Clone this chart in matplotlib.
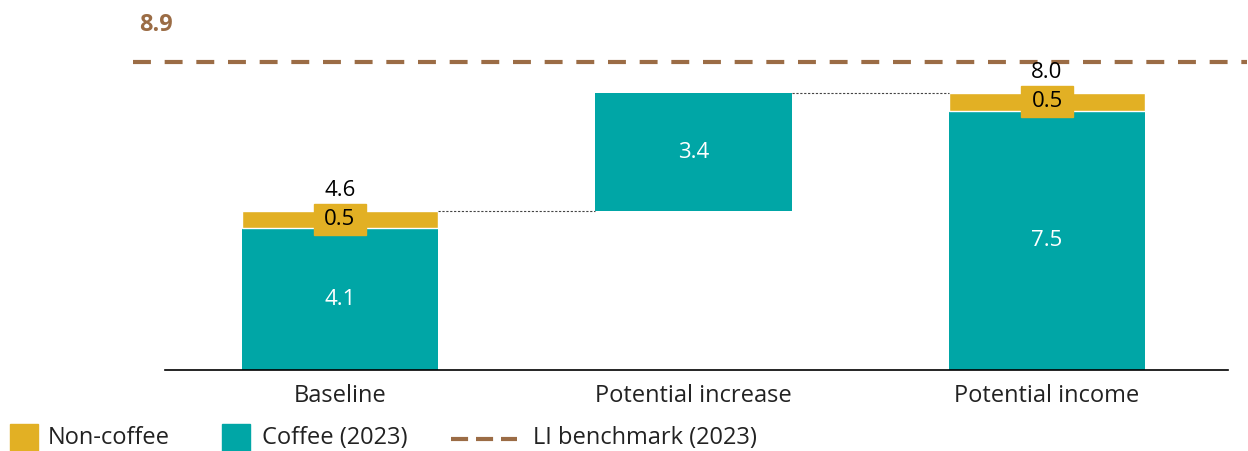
import matplotlib.pyplot as plt
from matplotlib.patches import Rectangle
from matplotlib.lines import Line2D

plt.rcParams['font.family'] = ['Open Sans', 'DejaVu Sans']

# income components (per category)
categories = ["Baseline", "Potential increase", "Potential income"]
coffee = [4.1, 3.4, 7.5]
non_coffee = [0.5, 0.0, 0.5]
totals = [4.6, 8.0, 8.0]
benchmark = 8.9

TEAL = "#00a6a6"
GOLD = "#e2b024"
BROWN = "#9b6c45"
TEXT = "#222222"

fig = plt.figure(figsize=(12.48, 4.51), dpi=100)
ax = fig.add_axes([165 / 1248, 1 - 370 / 451, (1228 - 165) / 1248, 370 / 451])

x = [0, 1, 2]
w = 0.555

# baseline bar
ax.bar(x[0], coffee[0], width=w, color=TEAL)
ax.bar(x[0], non_coffee[0], bottom=coffee[0], width=w, color=GOLD,
       edgecolor="white", linewidth=1)

# floating increase
ax.bar(x[1], coffee[1], bottom=totals[0], width=w, color=TEAL)

# potential income bar
ax.bar(x[2], coffee[2], width=w, color=TEAL)
ax.bar(x[2], non_coffee[2], bottom=coffee[2], width=w, color=GOLD,
       edgecolor="white", linewidth=1)

# connector lines between bars
ax.plot([x[0] + w / 2, x[1] - w / 2], [totals[0], totals[0]],
        color="#444444", lw=0.8, ls=(0, (2, 1.5)))
ax.plot([x[1] + w / 2, x[2] - w / 2], [totals[1], totals[1]],
        color="#444444", lw=0.8, ls=(0, (2, 1.5)))

# benchmark line runs past the axis ends
ax.plot([-0.586, 2.565], [benchmark, benchmark], color=BROWN, lw=3,
        ls=(0, (4.3, 3.3)), clip_on=False)
fig.text(139 / 1248, 1 - 25 / 451, f"{benchmark}", color=BROWN,
         fontsize=17, fontweight="bold", va="center", ha="left")

# labels
box_w, box_h = 0.145, 0.9
for i in (0, 2):
    ax.text(x[i], coffee[i] / 2, f"{coffee[i]}", color="white",
            fontsize=16, ha="center", va="center")
    mid = coffee[i] + non_coffee[i] / 2
    ax.add_patch(Rectangle((x[i] - box_w / 2, mid - box_h / 2), box_w, box_h,
                           color=GOLD, zorder=3))
    ax.text(x[i], mid, f"{non_coffee[i]}", color="black", fontsize=16,
            ha="center", va="center", zorder=4)
    ax.text(x[i], totals[i] + 0.6, f"{totals[i]}", color="black",
            fontsize=16, ha="center", va="center")
ax.text(x[1], totals[0] + coffee[1] / 2, f"{coffee[1]}", color="white",
        fontsize=16, ha="center", va="center")

ax.set_xlim(-0.495, 2.512)
ax.set_ylim(0, 370 / 34.6)
ax.set_xticks(x)
ax.set_xticklabels(categories, fontsize=17, color=TEXT)
ax.tick_params(axis="x", length=0, pad=10)
ax.set_yticks([])
for s in ("top", "right", "left"):
    ax.spines[s].set_visible(False)
ax.spines["bottom"].set_linewidth(1.2)

# legend along the bottom edge
def fx(px):
    return px / 1248

def fy(py):
    return 1 - py / 451

fig.add_artist(Rectangle((fx(10), fy(451)), 28 / 1248, 27 / 451,
                         transform=fig.transFigure, color=GOLD))
fig.text(fx(48), fy(438), "Non-coffee", fontsize=17, va="center", color=TEXT)
fig.add_artist(Rectangle((fx(222), fy(451)), 28 / 1248, 27 / 451,
                         transform=fig.transFigure, color=TEAL))
fig.text(fx(262), fy(438), "Coffee (2023)", fontsize=17, va="center", color=TEXT)
fig.add_artist(Line2D([fx(451), fx(517)], [fy(439), fy(439)],
                      transform=fig.transFigure, color=BROWN, lw=3,
                      ls=(0, (4.1, 1.9))))
fig.text(fx(533), fy(438), "LI benchmark (2023)", fontsize=17, va="center", color=TEXT)

fig.savefig("out.png", dpi=100)
